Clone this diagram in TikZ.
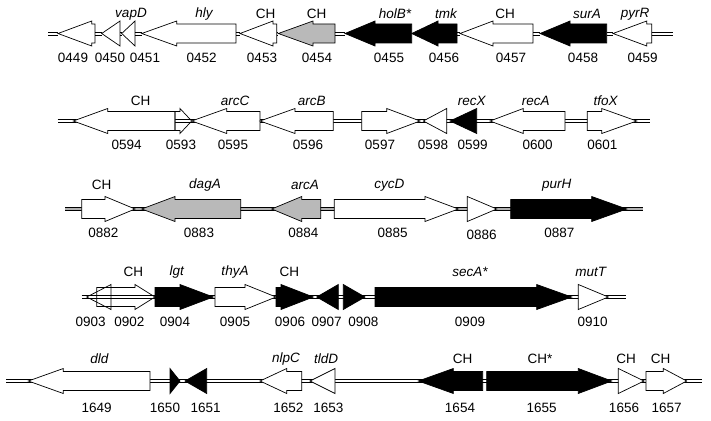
\documentclass[tikz,border=0pt]{standalone}
\usepackage{fontspec}
\setmainfont{Liberation Sans}

% gene arrow: style, back end, head base, tip, row y
\newcommand{\gene}[5]{%
  \draw[#1] (#2,#5-9.5) -- (#3,#5-9.5) -- (#3,#5-12.5) -- (#4,#5)
    -- (#3,#5+12.5) -- (#3,#5+9.5) -- (#2,#5+9.5) -- cycle;}

\begin{document}
\begin{tikzpicture}[
    x=1pt, y=-1pt,
    wg/.style={draw, line width=0.7pt, fill=white, line join=miter},
    og/.style={draw, line width=0.7pt, line join=miter},
    bg/.style={draw, line width=0.7pt, fill=black, line join=miter},
    hg/.style={draw, line width=0.7pt, fill=gray!55, line join=miter},
    backbone/.style={line width=0.5pt, double=white, double distance=2.4pt},
    grayline/.style={line width=0.5pt, double=gray!60, double distance=2.4pt},
    rail/.style={draw=black, line width=0.5pt},
    num/.style={font=\fontsize{13.5}{16}\selectfont, inner sep=0pt},
    gname/.style={font=\fontsize{13.5}{16}\selectfont\itshape, inner sep=0pt},
    ch/.style={font=\fontsize{13.5}{16}\selectfont, inner sep=0pt}
]
\useasboundingbox (0,0) rectangle (711,420);

% backbones
\coordinate (r2s) at (57.7,121);
\coordinate (r2e) at (650,121);
\coordinate (r3s) at (65,209);
\coordinate (r3e) at (642.7,209);
\coordinate (r4s) at (81.7,297);
\coordinate (r4e) at (626,297);
\coordinate (r5s) at (6,381);
\coordinate (r5e) at (701.7,381);
\draw[backbone] (r2s) -- (r2e);
\draw[grayline] (r3s) -- (r3e);
\draw[backbone] (r4s) -- (r4e);
\draw[backbone] (r5s) -- (r5e);

% Row 1
\gene{wg}{95}{91.7}{58}{33.5}
\gene{wg}{120}{120}{101.7}{33.5}
\gene{wg}{135}{135}{121.7}{33.5}
\gene{wg}{236}{176.7}{141.7}{33.5}
\gene{wg}{276.7}{273}{240}{33.5}
\gene{hg}{335}{313}{278.3}{33.5}
\gene{bg}{411.7}{375}{345}{33.5}
\gene{bg}{457}{438}{411.7}{33.5}
\gene{wg}{533}{493}{460}{33.5}
\gene{bg}{606.7}{570}{540}{33.5}
\gene{wg}{651.7}{646.7}{613}{33.5}
\foreach \x/\t in {73/0449, 110/0450, 145/0451, 201.7/0452, 262/0453,
    317/0454, 389/0455, 444/0456, 511/0457, 583/0458, 642.7/0459}
  \node[num] (n\t) at (\x,58) {\t};
\foreach \x/\t [count=\i] in {131/vapD, 204/hly, 395/holB*, 446/tmk,
    587/surA, 635/pyrR}
  \node[gname] (ga\i) at (\x,14) {\t};
\foreach \x [count=\i] in {265.7, 316.7, 505}
  \node[ch] (ca\i) at (\x,14) {CH};

% Row 2
\gene{wg}{175}{107.7}{73.3}{121}
\gene{og}{175}{180}{191.7}{121}
\gene{wg}{260}{226.7}{191.7}{121}
\gene{wg}{333.3}{295}{260}{121}
\gene{wg}{361.7}{386.7}{420}{121}
\gene{wg}{446.7}{446.7}{423.3}{121}
\gene{bg}{476.7}{476.7}{450}{121}
\gene{wg}{565}{523.3}{490}{121}
\gene{wg}{587.3}{601.7}{636.7}{121}
\foreach \x/\t in {126.7/0594, 181/0593, 233/0595, 308/0596, 380/0597,
    433/0598, 472.7/0599, 537.7/0600, 602.3/0601}
  \node[num] (n\t) at (\x,145) {\t};
\foreach \x/\t [count=\i] in {235/arcC, 311.7/arcB, 471.7/recX,
    535.7/recA, 605.7/tfoX}
  \node[gname] (gb\i) at (\x,100.7) {\t};
\node[ch] (cb1) at (140.7,100.7) {CH};

% Row 3
\gene{wg}{81.7}{105}{135}{209}
\gene{hg}{240.7}{175}{141.7}{209}
\gene{hg}{320.7}{301.7}{271.7}{209}
\gene{wg}{334.3}{425}{458.3}{209}
\gene{wg}{467.3}{467.3}{496.7}{209}
\gene{bg}{510.7}{591.7}{626.7}{209}
\foreach \x/\t in {103.3/0882, 199/0883, 303.3/0884, 392.7/0885, 559.3/0887}
  \node[num] (n\t) at (\x,232.7) {\t};
\node[num] (n0886) at (481.7,235) {0886};
\foreach \x/\t [count=\i] in {205/dagA, 305/arcA, 389.3/cycD, 556.7/purH}
  \node[gname] (gc\i) at (\x,185) {\t};
\node[ch] (cc1) at (101.7,185) {CH};

% Row 4
\gene{og}{111}{111}{86.7}{297}
\gene{og}{96.7}{135}{155}{297}
\gene{bg}{155}{180}{213.3}{297}
\gene{wg}{215}{245}{276}{297}
\gene{bg}{276}{281}{313.3}{297}
\gene{bg}{338.3}{338.3}{316.7}{297}
\gene{bg}{343.3}{343.3}{365}{297}
\gene{bg}{375}{536.7}{571.7}{297}
\gene{wg}{578.3}{578.3}{608.3}{297}
\foreach \x/\t in {90.7/0903, 129.3/0902, 175/0904, 235/0905, 290/0906,
    326.7/0907, 363.3/0908, 470/0909, 592.7/0910}
  \node[num] (n\t) at (\x,321.7) {\t};
\foreach \x/\t [count=\i] in {176.7/lgt, 235/thyA, 470/secA*, 590.7/mutT}
  \node[gname] (gd\i) at (\x,271.7) {\t};
\foreach \x [count=\i] in {133.3, 289.3}
  \node[ch] (cd\i) at (\x,271.7) {CH};

% Row 5
\gene{wg}{150}{63.3}{28.3}{381}
\gene{bg}{170}{170}{180}{381}
\gene{bg}{206.7}{206.7}{185}{381}
\gene{wg}{301.7}{286.7}{260}{381}
\gene{wg}{335}{335}{310}{381}
\gene{bg}{482.7}{453.3}{418.3}{381}
\gene{bg}{486.7}{578.3}{611.7}{381}
\gene{wg}{618.3}{618.3}{644}{381}
\gene{wg}{646}{663.3}{686.7}{381}
\foreach \x/\t in {96.7/1649, 165/1650, 205.7/1651, 288.3/1652, 328.3/1653,
    460/1654, 541.7/1655, 624/1656, 666.7/1657}
  \node[num] (n\t) at (\x,407.7) {\t};
\foreach \x/\t [count=\i] in {99.3/dld, 286/nlpC, 326/tldD}
  \node[gname] (ge\i) at (\x,359) {\t};
\foreach \x/\t [count=\i] in {462.7/CH, 540/CH*, 626/CH, 660.7/CH}
  \node[ch] (ce\i) at (\x,359) {\t};

% row 1 backbone, two rails in the gaps
\foreach \a/\b [count=\i] in {48/58, 95/101.7, 120/121.7, 135/141.7,
    236/240, 276.7/278.3, 335/345, 457/460, 533/540, 606.7/613, 651.7/673} {
  \coordinate (b1l\i) at (\a,33.5);
  \coordinate (b1r\i) at (\b,33.5);
  \draw[rail] ([yshift=1.45pt]b1l\i) -- ([yshift=1.45pt]b1r\i);
  \draw[rail] ([yshift=-1.45pt]b1l\i) -- ([yshift=-1.45pt]b1r\i);
}
\end{tikzpicture}
\end{document}
